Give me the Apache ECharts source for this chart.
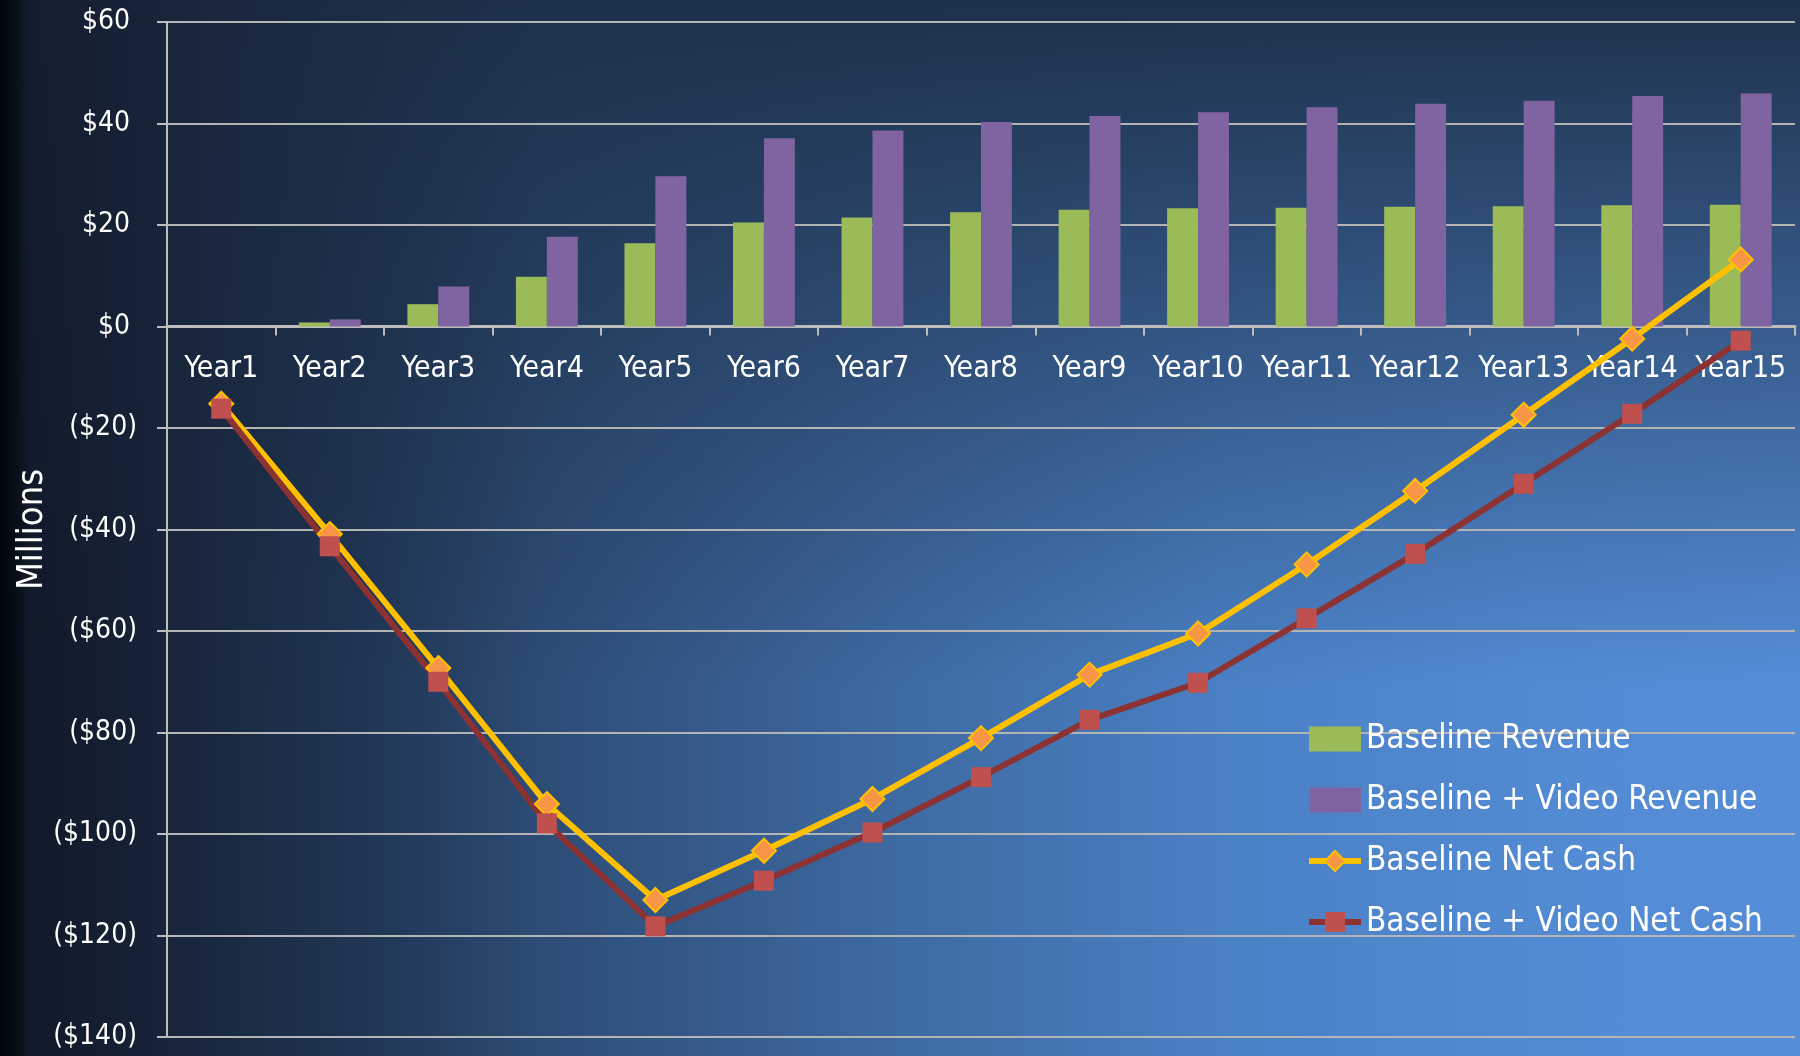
<!DOCTYPE html>
<html>
<head>
<meta charset="utf-8">
<title>Revenue and Net Cash</title>
<script src="https://cdn.jsdelivr.net/npm/echarts@6/dist/echarts.min.js"></script>
<style>
  html, body { margin: 0; padding: 0; }
  #chart {
    width: 1800px;
    height: 1056px;
    background:
      linear-gradient(to right, rgba(0,5,9,1) 0px, rgba(0,5,9,0.6) 14px, rgba(0,5,9,0) 30px),
      linear-gradient(to right, rgba(13,19,30,0.7) 0%, rgba(13,19,30,0.3) 12%, rgba(13,19,30,0) 30%),
      linear-gradient(to bottom, rgba(30,49,75,1) 0%, rgba(30,49,75,0.55) 30%, rgba(30,49,75,0) 65%),
      linear-gradient(to right, #17243a 0%, #243c5f 20%, #315481 35%, #3e6aa2 50%, #4a80c4 68%, #528ad2 85%, #558dd8 100%);
  }
</style>
</head>
<body>
<div id="chart"></div>
<script>
// Fifteen-year projection, values in millions of dollars
const years = ['Year1', 'Year2', 'Year3', 'Year4', 'Year5', 'Year6', 'Year7', 'Year8',
               'Year9', 'Year10', 'Year11', 'Year12', 'Year13', 'Year14', 'Year15'];

const baselineRevenue = [0, 0.8, 4.4, 9.8, 16.4, 20.5, 21.5, 22.5, 23.0, 23.3, 23.4, 23.6, 23.7, 23.9, 24.0];
const videoRevenue    = [0, 1.4, 7.9, 17.7, 29.6, 37.1, 38.6, 40.3, 41.5, 42.2, 43.2, 43.9, 44.5, 45.4, 45.9];
const baselineNetCash = [-15.2, -40.9, -67.3, -94.1, -113.0, -103.3, -93.1, -81.1, -68.6, -60.5, -46.9, -32.4, -17.4, -2.4, 13.2];
const videoNetCash    = [-16.2, -43.3, -70.0, -97.9, -118.2, -109.2, -99.7, -88.8, -77.5, -70.2, -57.5, -44.8, -31.0, -17.2, -2.8];

const seriesNames = ['Baseline Revenue', 'Baseline + Video Revenue', 'Baseline Net Cash', 'Baseline + Video Net Cash'];

const FONT = '"DejaVu Sans Condensed", "Liberation Sans", sans-serif';
const AXIS_GRAY = '#bdbdbd';
const GRID_GRAY = '#b4b4b4';

// Accounting style: negatives in parentheses, positives padded to line up
function money(v) {
  if (v < 0) return '{n|($' + (-v) + ')}';
  return '{p|$' + v + '}';
}

const chart = echarts.init(document.getElementById('chart'), null, { renderer: 'canvas' });

const option = {
  backgroundColor: 'transparent',
  animation: false,
  textStyle: { fontFamily: FONT, color: '#ffffff' },
  grid: { left: 167, right: 5, top: 22, bottom: 19, containLabel: false, outerBoundsMode: 'none' },
  legend: {
    data: [
      { name: seriesNames[0], icon: 'rect' },
      { name: seriesNames[1], icon: 'rect' },
      { name: seriesNames[2] },
      { name: seriesNames[3] }
    ],
    orient: 'vertical',
    left: 1306,
    top: 719,
    padding: 0,
    itemWidth: 52,
    itemHeight: 25,
    itemGap: 21,
    lineStyle: { width: 'inherit' },
    textStyle: { color: '#ffffff', fontSize: 33, fontFamily: FONT, lineHeight: 40 }
  },
  xAxis: {
    type: 'category',
    data: years,
    axisLine: { onZero: false, lineStyle: { color: AXIS_GRAY, width: 3 } },
    axisTick: { show: true, length: 9, lineStyle: { color: AXIS_GRAY, width: 2 } },
    axisLabel: { interval: 0, color: '#ffffff', fontSize: 30, margin: 28, fontFamily: FONT },
    splitLine: { show: false }
  },
  yAxis: {
    type: 'value',
    min: -140,
    max: 60,
    interval: 20,
    name: 'Millions',
    nameLocation: 'middle',
    nameRotate: 90,
    nameGap: 116,
    nameMoveOverlap: false,
    nameTextStyle: { color: '#ffffff', fontSize: 36, fontFamily: FONT },
    axisLine: { show: true, lineStyle: { color: AXIS_GRAY, width: 2 } },
    axisTick: { show: true, length: 10, lineStyle: { color: AXIS_GRAY, width: 2 } },
    axisLabel: {
      margin: 30,
      formatter: money,
      rich: {
        p: { color: '#ffffff', fontSize: 28, fontFamily: FONT, padding: [0, 7, 0, 0] },
        n: { color: '#ffffff', fontSize: 28, fontFamily: FONT }
      }
    },
    splitLine: { show: true, lineStyle: { color: GRID_GRAY, width: 2 } }
  },
  series: [
    {
      name: seriesNames[0],
      type: 'bar',
      data: baselineRevenue,
      barGap: '0%',
      barCategoryGap: '43%',
      itemStyle: { color: '#9bbb59' }
    },
    {
      name: seriesNames[1],
      type: 'bar',
      data: videoRevenue,
      itemStyle: { color: '#8064a2' }
    },
    {
      name: seriesNames[2],
      type: 'line',
      data: baselineNetCash,
      symbol: 'diamond',
      symbolSize: 24,
      lineStyle: { color: '#ffc000', width: 6 },
      itemStyle: { color: '#f79646', borderColor: '#ffc000', borderWidth: 2 }
    },
    {
      name: seriesNames[3],
      type: 'line',
      data: videoNetCash,
      symbol: 'rect',
      symbolSize: 20,
      lineStyle: { color: '#8c3232', width: 6 },
      itemStyle: { color: '#c0504d', borderWidth: 0 }
    }
  ]
};

chart.setOption(option);

// The category axis sits on the $0 line: shift it up from the bottom of the grid
const zeroY = chart.convertToPixel({ yAxisIndex: 0 }, 0);
const floorY = chart.convertToPixel({ yAxisIndex: 0 }, -140);
chart.setOption({ xAxis: { offset: zeroY - floorY } });
</script>
</body>
</html>
